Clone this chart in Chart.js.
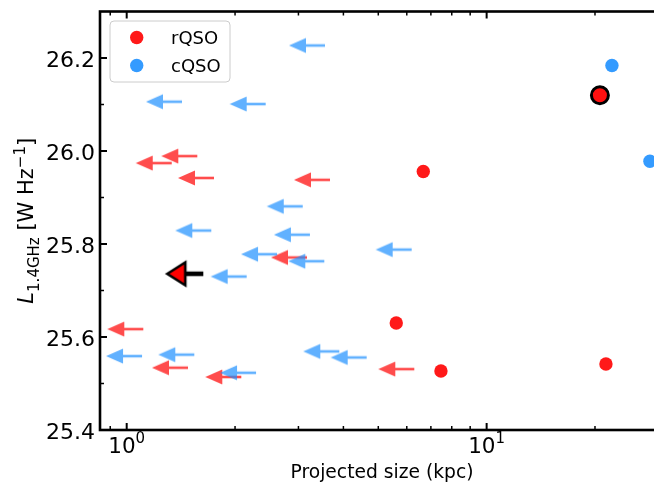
<!DOCTYPE html>
<html>
<head>
<meta charset="utf-8">
<script src="https://cdn.jsdelivr.net/npm/chart.js@4.4.0/dist/chart.umd.min.js"></script>
<style>
  html, body { margin: 0; padding: 0; background: #fff; overflow: hidden; }
  #wrap { width: 680px; height: 486px; }
</style>
</head>
<body>
<div id="wrap"><canvas id="chart" width="680" height="486"></canvas></div>
<script>
// projected size (kpc) vs L_1.4GHz, upper limits are drawn as left arrows
const rLimSize = [1.334, 1.571, 1.748, 3.670, 3.169, 1.112, 1.480, 2.081, 6.294];
const rLimLum  = [25.974, 25.989, 25.942, 25.938, 25.771, 25.617, 25.534, 25.514, 25.531];
const cLimSize = [1.424, 2.433, 3.555, 3.083, 1.718, 3.229, 2.616, 3.539, 6.190, 2.154, 1.103, 1.541, 2.287, 3.896, 4.642];
const cLimLum  = [26.106, 26.101, 26.227, 25.881, 25.829, 25.820, 25.778, 25.763, 25.788, 25.730, 25.559, 25.562, 25.523, 25.569, 25.556];
const rDetSize = [6.668, 5.609, 7.466, 21.45];
const rDetLum  = [25.956, 25.630, 25.527, 25.542];
const cDetSize = [22.29, 28.42];
const cDetLum  = [26.184, 25.978];
// the two highlighted sources (black edge)
const hlDetSize = [20.64];
const hlDetLum  = [26.120];
const hlLimSize = [1.632];
const hlLimLum  = [25.736];

const xMajor = [1, 10];
const xMajorExp = ['0', '1'];
const xMinor = [0.9, 2, 3, 4, 5, 6, 7, 8, 9, 20, 30];
const yMajor = [25.4, 25.6, 25.8, 26.0, 26.2];
const yMajorLabels = ['25.4', '25.6', '25.8', '26.0', '26.2'];
const yMinor = [25.5, 25.7, 25.9, 26.1];

const legendLabels = ['rQSO', 'cQSO'];

const RED = 'rgba(255,0,0,0.9)';
const BLUE = 'rgba(30,144,255,0.9)';
const RED_LIM = 'rgba(255,0,0,0.7)';
const BLUE_LIM = 'rgba(30,144,255,0.7)';
const FONT = "'DejaVu Sans', 'Liberation Sans', sans-serif";

function pts(xs, ys) {
    return xs.map((x, i) => ({ x: x, y: ys[i] }));
}

// arrow marker, tail sits on the data point, head points left
function arrowImage(fill) {
    const c = document.createElement('canvas');
    c.width = 76; c.height = 18;
    const g = c.getContext('2d');
    const cx = 38, cy = 9;
    const tip = cx - 36, base = tip + 17;
    g.fillStyle = '#000';
    g.beginPath();
    g.moveTo(tip, cy); g.lineTo(base, cy - 7.5); g.lineTo(base, cy + 7.5); g.closePath();
    g.fill();
    g.fillRect(base - 4, cy - 1.3, cx - base + 4, 2.6);
    g.globalCompositeOperation = 'source-in';
    g.fillStyle = fill;
    g.fillRect(0, 0, c.width, c.height);
    return c;
}

function highlightArrow() {
    const c = document.createElement('canvas');
    c.width = 80; c.height = 34;
    const g = c.getContext('2d');
    const cx = 40, cy = 17;
    const tip = cx - 36, base = tip + 18;
    g.fillStyle = '#000';
    g.fillRect(base, cy - 2.3, cx - base, 4.6);
    g.beginPath();
    g.moveTo(tip, cy); g.lineTo(base, cy - 11.5); g.lineTo(base, cy + 11.5); g.closePath();
    g.fillStyle = '#ff0000';
    g.fill();
    g.lineWidth = 2.6;
    g.lineJoin = 'miter';
    g.strokeStyle = '#000';
    g.stroke();
    return c;
}

const axesPlugin = {
    id: 'mplAxes',
    afterDraw(chart) {
        const ctx = chart.ctx;
        const a = chart.chartArea;
        const xs = chart.scales.x, ys = chart.scales.y;
        ctx.save();
        ctx.strokeStyle = '#000';

        // inward ticks
        const tick = (x1, y1, x2, y2, w) => {
            ctx.lineWidth = w;
            ctx.beginPath(); ctx.moveTo(x1, y1); ctx.lineTo(x2, y2); ctx.stroke();
        };
        xMajor.forEach(v => {
            const px = xs.getPixelForValue(v);
            tick(px, a.bottom, px, a.bottom - 7, 2);
            tick(px, a.top, px, a.top + 7, 2);
        });
        xMinor.forEach(v => {
            const px = xs.getPixelForValue(v);
            if (px < a.left || px > a.right) return;
            tick(px, a.bottom, px, a.bottom - 4, 1.5);
            tick(px, a.top, px, a.top + 4, 1.5);
        });
        yMajor.forEach(v => {
            const py = ys.getPixelForValue(v);
            tick(a.left, py, a.left + 7, py, 2);
        });
        yMinor.forEach(v => {
            const py = ys.getPixelForValue(v);
            tick(a.left, py, a.left + 4, py, 1.5);
        });

        // spines
        ctx.lineWidth = 2.6;
        ctx.strokeRect(a.left, a.top, a.right - a.left, a.bottom - a.top);

        // y tick labels
        ctx.fillStyle = '#000';
        ctx.font = '22px ' + FONT;
        ctx.textAlign = 'right';
        ctx.textBaseline = 'alphabetic';
        yMajor.forEach((v, i) => {
            ctx.fillText(yMajorLabels[i], a.left - 5, ys.getPixelForValue(v) + 9);
        });

        // x tick labels 10^n
        ctx.textAlign = 'left';
        xMajor.forEach((v, i) => {
            const px = xs.getPixelForValue(v);
            ctx.font = '21.5px ' + FONT;
            const w1 = ctx.measureText('10').width;
            ctx.font = '15px ' + FONT;
            const w2 = ctx.measureText(xMajorExp[i]).width;
            const x0 = px - (w1 + w2) / 2;
            ctx.font = '21.5px ' + FONT;
            ctx.fillText('10', x0, 453);
            ctx.font = '15px ' + FONT;
            ctx.fillText(xMajorExp[i], x0 + w1, 443);
        });

        // x label
        ctx.font = '18.7px ' + FONT;
        ctx.textAlign = 'center';
        ctx.fillText('Projected size (kpc)', (a.left + a.right) / 2, 478);

        // y label with sub/superscript
        const parts = [
            { t: 'L', f: 'italic 21px ' + FONT, dy: 0 },
            { t: '1.4GHz', f: '15px ' + FONT, dy: 6 },
            { t: ' [W Hz', f: '21px ' + FONT, dy: 0 },
            { t: '\u22121', f: '15px ' + FONT, dy: -8 },
            { t: ']', f: '21px ' + FONT, dy: 0 }
        ];
        let total = 0;
        parts.forEach(p => { ctx.font = p.f; p.w = ctx.measureText(p.t).width; total += p.w; });
        ctx.save();
        ctx.translate(32.5, (a.top + a.bottom) / 2);
        ctx.rotate(-Math.PI / 2);
        ctx.textAlign = 'left';
        let cur = -total / 2;
        parts.forEach(p => {
            ctx.font = p.f;
            ctx.fillText(p.t, cur, p.dy);
            cur += p.w;
        });
        ctx.restore();

        // legend box
        const lx = 110, ly = 21, lw = 120, lh = 61;
        ctx.beginPath();
        ctx.roundRect(lx, ly, lw, lh, 4);
        ctx.fillStyle = 'rgba(255,255,255,0.8)';
        ctx.fill();
        ctx.lineWidth = 1;
        ctx.strokeStyle = '#cccccc';
        ctx.stroke();
        const legColors = [RED, BLUE];
        const legY = [37.5, 65.5];
        ctx.font = '18px ' + FONT;
        ctx.textAlign = 'left';
        legendLabels.forEach((lab, i) => {
            ctx.beginPath();
            ctx.arc(136.7, legY[i], 6.7, 0, Math.PI * 2);
            ctx.fillStyle = legColors[i];
            ctx.fill();
            ctx.fillStyle = '#000';
            ctx.fillText(lab, 171, legY[i] + 6.5);
        });
        ctx.restore();
    }
};

new Chart(document.getElementById('chart'), {
    type: 'scatter',
    data: {
        datasets: [
            { label: 'rQSO limits', data: pts(rLimSize, rLimLum), pointStyle: arrowImage(RED_LIM), pointRadius: 3, order: 5 },
            { label: 'cQSO limits', data: pts(cLimSize, cLimLum), pointStyle: arrowImage(BLUE_LIM), pointRadius: 3, order: 4 },
            { label: 'rQSO', data: pts(rDetSize, rDetLum), pointStyle: 'circle', pointRadius: 6.7, backgroundColor: RED, borderWidth: 0, order: 3 },
            { label: 'cQSO', data: pts(cDetSize, cDetLum), pointStyle: 'circle', pointRadius: 6.7, backgroundColor: BLUE, borderWidth: 0, order: 2 },
            { label: 'rQSO hl', data: pts(hlDetSize, hlDetLum), pointStyle: 'circle', pointRadius: 8.5, backgroundColor: '#ff1010', borderColor: '#000', borderWidth: 3, order: 1 },
            { label: 'rQSO hl limit', data: pts(hlLimSize, hlLimLum), pointStyle: highlightArrow(), pointRadius: 3, order: 0 }
        ]
    },
    options: {
        responsive: false,
        animation: false,
        events: [],
        layout: { padding: { left: 100, right: 16, top: 11, bottom: 56 } },
        scales: {
            x: { type: 'logarithmic', min: 0.843, max: 31.1, display: false },
            y: { type: 'linear', min: 25.4, max: 26.3, display: false }
        },
        plugins: { legend: { display: false }, tooltip: { enabled: false } }
    },
    plugins: [axesPlugin]
});
</script>
</body>
</html>
